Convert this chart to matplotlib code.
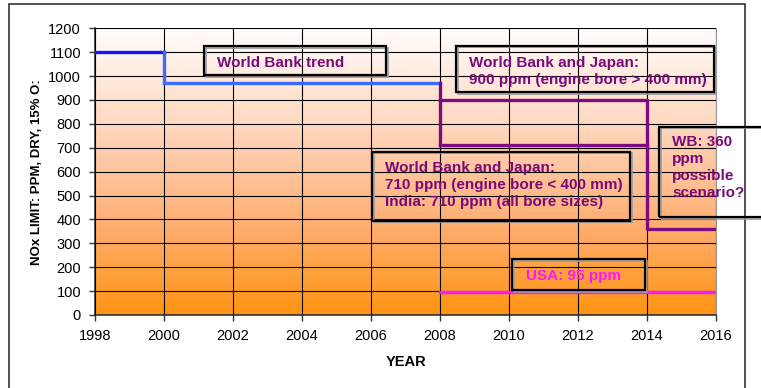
import matplotlib
matplotlib.use("Agg")
import matplotlib.pyplot as plt
import matplotlib.patches as patches
import numpy as np
from matplotlib.colors import LinearSegmentedColormap

# --- DATA ---
wb_years = [1998, 2000, 2008]
wb_ppm = [1100, 970, 970]
big_bore_years = [2008, 2014, 2016]
big_bore_ppm = [900, 360, 360]
small_bore_years = [2008, 2014]
small_bore_ppm = [710, 710]
usa_years = [2008, 2016]
usa_ppm = [95, 95]

x_ticks = list(range(1998, 2017, 2))
y_ticks = list(range(0, 1201, 100))

notes = [
    ("World Bank trend", "#7a0a7a"),
    ("World Bank and Japan:\n900 ppm (engine bore > 400 mm)", "#7a0a7a"),
    ("World Bank and Japan:\n710 ppm (engine bore < 400 mm)\nIndia: 710 ppm (all bore sizes)", "#7a0a7a"),
    ("WB: 360\nppm\npossible\nscenario?", "#7a0a7a"),
    ("USA: 95 ppm", "#ff14ff"),
]

# --- STYLE ---
W, H = 761, 388
plt.rcParams['font.family'] = ['Liberation Sans', 'DejaVu Sans']
dark_blue = '#1414ff'
light_blue = '#3a6cff'
purple = '#7d0a80'
magenta = '#ff14ff'

fig = plt.figure(figsize=(W / 100, H / 100), dpi=100)
fig.patch.set_facecolor('white')

def px(x0, y0, x1, y1):
    # pixel box (top-left origin) -> figure fraction [l, b, w, h]
    return [x0 / W, 1 - y1 / H, (x1 - x0) / W, (y1 - y0) / H]

ax = fig.add_axes(px(95, 28.3, 716, 315))

# gradient background
grad = np.linspace(0, 1, 256).reshape(-1, 1)
cmap = LinearSegmentedColormap.from_list('bg', ['#fffdfc', '#ffd8c0', '#ffb077', '#ff9412'])
ax.imshow(grad, aspect='auto', cmap=cmap, extent=[0, 1, 0, 1],
          transform=ax.transAxes, zorder=0, origin='upper')

ax.set_xlim(1998, 2016)
ax.set_ylim(0, 1200)
ax.set_xticks(x_ticks)
ax.set_yticks(y_ticks)
ax.grid(True, color='black', lw=0.8, zorder=1)
ax.set_axisbelow(False)
ax.tick_params(direction='out', length=4, width=1, color='#333333', labelsize=10.5, pad=6)
for s in ['left', 'bottom']:
    ax.spines[s].set_color('#333333')
    ax.spines[s].set_linewidth(1.2)
ax.spines['right'].set_color('#999999')
ax.spines['top'].set_visible(False)

# lines
lw = 2.4
ax.plot(wb_years[:2], [wb_ppm[0], wb_ppm[0]], color=dark_blue, lw=lw, zorder=3)
ax.plot([wb_years[1]] * 2, [wb_ppm[0], wb_ppm[1]], color=light_blue, lw=lw, zorder=3)
ax.plot(wb_years[1:], wb_ppm[1:], color=light_blue, lw=lw, zorder=3)
ax.plot([big_bore_years[0]] * 2, [wb_ppm[-1], small_bore_ppm[0]], color=purple, lw=lw, zorder=3)
ax.plot(big_bore_years, big_bore_ppm, color=purple, lw=lw, zorder=3, drawstyle='steps-post')
ax.plot(small_bore_years, small_bore_ppm, color=purple, lw=lw, zorder=3)
ax.plot(usa_years, usa_ppm, color=magenta, lw=lw, zorder=3)

ax.set_ylabel("NOx LIMIT: PPM, DRY, 15% O:", fontsize=9.5, fontweight='bold', labelpad=3.5)
fig.text(406 / W, 1 - 362 / H, "YEAR", fontsize=10.5, fontweight='bold', ha='center', va='center')

# annotation boxes: (box x0, y0, x1, y1, text x, first line y)
boxes = [
    (204, 46, 386, 75, 217, 62),
    (456, 46, 714, 92, 469, 62),
    (372, 152, 630, 221, 385, 167),
    (659, 127, 800, 217, 672, 141),
    (512, 259, 645, 290, 526, 275),
]
for (x0, y0, x1, y1, tx, ty), (txt, col) in zip(boxes, notes):
    l, b, w, h = px(x0, y0, x1, y1)
    fig.patches.append(patches.Rectangle((l + 1.5 / W, b - 1.5 / H), w, h, transform=fig.transFigure,
                                         fill=False, edgecolor='#9a9a9a', lw=1.2, zorder=4))
    fig.patches.append(patches.Rectangle((l, b), w, h, transform=fig.transFigure,
                                         fill=False, edgecolor='black', lw=1.6, zorder=5))
    fig.text(tx / W, 1 - (ty - 6) / H, txt, color=col, fontsize=11, fontweight='bold',
             ha='left', va='top', linespacing=1.27, zorder=6)

# outer chart frame
fig.patches.append(patches.Rectangle((9 / W, -0.05), (745 - 9) / W, 1 - 4 / H + 0.05,
                                     transform=fig.transFigure, fill=False,
                                     edgecolor='#333333', lw=1.2, zorder=2))

fig.savefig('out.png', dpi=100)
